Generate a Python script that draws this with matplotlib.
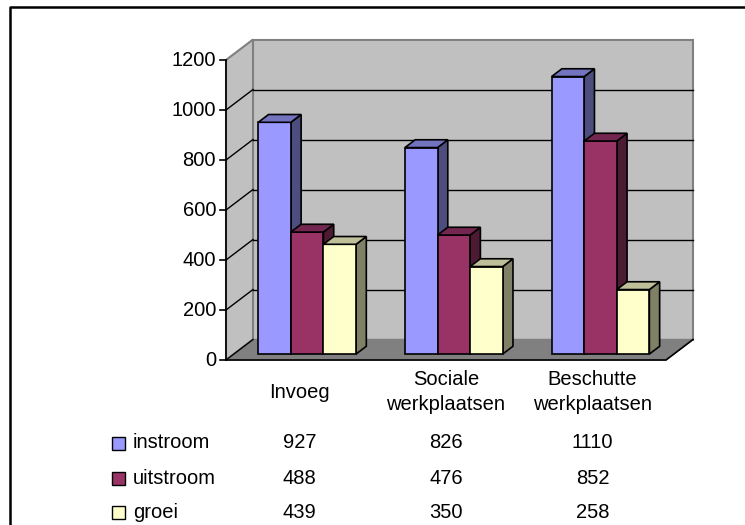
import matplotlib
matplotlib.use("Agg")
import matplotlib.pyplot as plt
import matplotlib.patches as pth
import matplotlib.transforms as mtrans

plt.rcParams["font.family"] = ["Liberation Sans", "DejaVu Sans"]

# data
categories = ["Invoeg", "Sociale\nwerkplaatsen", "Beschutte\nwerkplaatsen"]
series = ["instroom", "uitstroom", "groei"]
instroom = [927, 826, 1110]
uitstroom = [488, 476, 852]
groei = [439, 350, 258]
yticks = [0, 200, 400, 600, 800, 1000, 1200]

values = [instroom, uitstroom, groei]
front_col = ["#9999FF", "#993366", "#FFFFCC"]
side_col = ["#4D4D80", "#4D1A33", "#808066"]
top_col = ["#7373BF", "#732650", "#BFBF99"]

W, H = 745, 525
FS = 14.5
fig = plt.figure(figsize=(W / 100, H / 100), dpi=100)
fig.patch.set_facecolor("white")

# front plane of the 3d box, in pixels
x_left, x_right, y_zero, y_top = 226, 666, 360, 60
ax = fig.add_axes([x_left / W, 1 - y_zero / H, (x_right - x_left) / W, (y_zero - y_top) / H])
ncat = len(categories)
ymax = yticks[-1]
ax.set_xlim(0, ncat)
ax.set_ylim(0, ymax)
ax.axis("off")

px_x = ncat / (x_right - x_left)  # data units per pixel
px_y = ymax / (y_zero - y_top)
DX = 27 * px_x
DY = 20.5 * px_y


def poly(pts, fc, ec, lw=1.0, z=1):
    ax.add_patch(pth.Polygon(pts, closed=True, fc=fc, ec=ec, lw=lw, clip_on=False, zorder=z,
                             joinstyle="miter"))


# walls
poly([(DX, DY), (ncat + DX, DY), (ncat + DX, ymax + DY), (DX, ymax + DY)], "#C0C0C0", "#808080", 1.5)
poly([(0, 0), (DX, DY), (DX, ymax + DY), (0, ymax)], "#C0C0C0", "#808080", 1.5)
poly([(0, 0), (ncat, 0), (ncat + DX, DY), (DX, DY)], "#808080", "#808080", 1)
for v in yticks[1:-1]:
    ax.plot([DX, ncat + DX], [v + DY, v + DY], color="black", lw=1, clip_on=False, zorder=2)
    ax.plot([0, DX], [v, v + DY], color="black", lw=1, clip_on=False, zorder=2)
ax.plot([0, ncat, ncat + DX], [0, 0, DY], color="black", lw=1.2, clip_on=False, zorder=2)
ax.plot([0, DX], [0, DY], color="black", lw=1, clip_on=False, zorder=2)
ax.plot([0, 0], [0, ymax], color="black", lw=1.2, clip_on=False, zorder=2)
for v in yticks:
    ax.plot([-6 * px_x, 0], [v, v], color="black", lw=1.2, clip_on=False, zorder=2)
    ax.text(-10 * px_x, v, str(v), ha="right", va="center", fontsize=FS)

# bars
bw = 1 / (len(series) + 1.5)
d0, d1 = 0.29, 0.67
for i in range(ncat):
    for j in range(len(series)):
        v = values[j][i]
        x0 = i + 0.75 * bw + j * bw + d0 * DX
        x1 = x0 + bw
        y0 = d0 * DY
        y1 = v + d0 * DY
        ddx = (d1 - d0) * DX
        ddy = (d1 - d0) * DY
        poly([(x1, y0), (x1 + ddx, y0 + ddy), (x1 + ddx, y1 + ddy), (x1, y1)], side_col[j], "black", 1.2, 3)
        poly([(x0, y0), (x1, y0), (x1, y1), (x0, y1)], front_col[j], "black", 1.2, 3)
        poly([(x0, y1), (x1, y1), (x1 + ddx, y1 + ddy), (x0 + ddx, y1 + ddy)], top_col[j], "black", 1.2, 3)

# data table below the chart
tr = mtrans.blended_transform_factory(ax.transData, fig.transFigure)
for i, c in enumerate(categories):
    ax.text(i + 0.5, 1 - 392 / H, c, transform=tr, ha="center", va="center", fontsize=FS,
            linespacing=1.35)
row_y = [443, 478, 512]
for j, s in enumerate(series):
    yy = 1 - row_y[j] / H
    fig.patches.append(pth.Rectangle((112 / W, yy - 6.5 / H), 13 / W, 13 / H, fc=front_col[j],
                                     ec="black", lw=1, transform=fig.transFigure, figure=fig))
    fig.text(133 / W, yy, s, ha="left", va="center", fontsize=FS)
    for i in range(ncat):
        ax.text(i + 0.5, yy, str(values[j][i]), transform=tr, ha="center", va="center", fontsize=FS)

# chart frame (only top and left visible)
fig.add_artist(plt.Line2D([10 / W, 10 / W, 1], [0, 1 - 6.5 / H, 1 - 6.5 / H], color="black", lw=1.8,
                          transform=fig.transFigure))

fig.savefig("out.png", dpi=100)
